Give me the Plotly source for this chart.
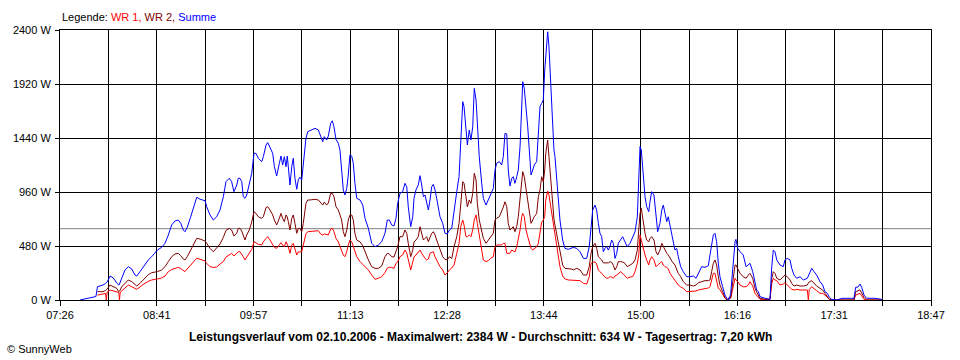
import plotly.graph_objects as go

# ---------------- data ----------------
# time of day in minutes after midnight
zeit_min = [
    461.6, 467.9, 474.1, 475.3, 479.6, 481.6, 482.2, 482.9, 485.1, 487.7,
    490.3, 492.0, 492.5, 493.1, 494.2, 496.8, 499.4, 502.1, 504.6, 506.0,
    508.5, 511.1, 515.0, 517.7, 522.1, 525.5, 528.1, 530.7, 533.3, 535.9,
    538.5, 540.4, 542.4, 543.7, 545.5, 548.2, 550.8, 552.9, 555.5, 559.4,
    560.7, 563.3, 565.9, 568.5, 571.1, 573.7, 575.8, 578.4, 580.2, 582.0,
    584.2, 585.4, 586.7, 588.1, 589.3, 590.6, 592.0, 594.0, 595.9, 597.7,
    599.2, 601.0, 603.7, 605.0, 607.1, 608.4, 610.2, 612.3, 613.6, 615.4,
    617.5, 618.8, 620.1, 621.4, 622.7, 623.7, 624.5, 625.8, 627.2, 628.4,
    629.7, 631.1, 632.3, 633.6, 635.0, 636.2, 638.3, 639.7, 641.5, 645.4,
    648.0, 649.8, 651.4, 652.6, 654.5, 655.8, 657.6, 658.9, 660.2, 661.8,
    663.6, 664.9, 666.2, 667.5, 668.8, 670.2, 671.4, 672.7, 674.1, 675.3,
    676.6, 678.0, 680.6, 682.7, 684.5, 687.1, 689.7, 692.3, 694.9, 697.5,
    700.1, 701.9, 703.5, 705.3, 707.1, 708.7, 710.0, 711.8, 713.9, 715.7,
    717.1, 718.3, 720.2, 721.8, 722.8, 724.3, 726.1, 727.5, 728.8, 730.1,
    731.4, 732.7, 734.0, 735.3, 736.6, 737.9, 739.2, 740.5, 741.8, 743.1,
    745.2, 747.0, 748.8, 750.4, 752.3, 754.1, 756.2, 758.0, 759.3, 760.9,
    761.9, 763.4, 764.5, 766.0, 767.3, 768.7, 769.9, 771.3, 772.3, 773.8,
    775.7, 777.0, 779.1, 780.9, 782.7, 784.8, 786.1, 787.4, 789.5, 791.3,
    792.6, 793.9, 795.3, 796.5, 797.8, 799.2, 800.4, 801.7, 803.1, 804.3,
    805.7, 807.0, 807.8, 809.0, 810.4, 811.7, 812.9, 814.3, 815.6, 816.8,
    818.7, 820.0, 821.3, 822.6, 823.9, 825.0, 825.8, 826.5, 827.3, 828.3,
    829.7, 830.9, 832.2, 833.0, 834.8, 836.9, 839.0, 840.8, 843.4, 846.1,
    847.3, 850.0, 852.6, 855.2, 857.8, 859.8, 861.2, 862.5, 864.3, 865.6,
    866.9, 868.2, 869.5, 870.8, 872.1, 873.4, 874.7, 876.0, 877.3, 878.6,
    879.9, 881.3, 882.5, 884.4, 885.9, 887.7, 889.5, 891.7, 893.8, 895.6,
    897.4, 898.5, 899.5, 900.5, 902.1, 903.4, 904.7, 906.3, 907.3, 908.6,
    910.4, 912.0, 913.3, 915.1, 916.5, 917.7, 919.0, 920.4, 921.6, 922.9,
    924.7, 926.8, 928.2, 929.4, 931.3, 933.3, 936.0, 938.6, 941.2, 943.3,
    945.1, 947.7, 950.3, 952.9, 954.2, 955.5, 956.8, 958.1, 959.4, 960.7,
    962.0, 964.1, 965.9, 967.7, 969.3, 970.4, 972.4, 973.8, 974.5, 975.9,
    977.7, 980.2, 982.4, 984.2, 985.5, 987.6, 989.4, 990.7, 992.0, 993.3,
    997.2, 1001.1, 1002.5, 1003.7, 1005.0, 1006.4, 1008.9, 1011.5, 1012.8, 1014.6,
    1016.8, 1018.1, 1019.9, 1022.0, 1024.6, 1027.2, 1030.3, 1031.1, 1031.8, 1033.7,
    1035.5, 1037.6, 1040.2, 1042.3, 1044.1, 1045.9, 1047.5, 1049.4, 1053.3, 1057.4,
    1066.8, 1068.1, 1069.9, 1071.5, 1072.8, 1074.6, 1076.7, 1083.2, 1088.5,
]

# Summe (W)
summe = [
    0, 13, 31, 118, 133, 147, 151, 160, 213, 196,
    151, 133, 142, 160, 193, 267, 296, 276, 222, 213,
    251, 296, 356, 385, 444, 468, 504, 578, 667, 702,
    711, 682, 622, 607, 646, 740, 829, 913, 895, 883,
    829, 756, 711, 740, 800, 918, 1052, 1082, 1052, 963,
    1022, 1082, 1082, 1052, 918, 904, 933, 1037, 1126, 1304,
    1304, 1260, 1230, 1274, 1378, 1399, 1349, 1304, 1185, 1102,
    1215, 1280, 1200, 1274, 1185, 1280, 1185, 1022, 1185, 1260,
    1082, 984, 1067, 1091, 1067, 1185, 1437, 1496, 1505, 1526,
    1511, 1452, 1407, 1452, 1422, 1458, 1570, 1593, 1540, 1428,
    1393, 1333, 1185, 978, 933, 993, 1111, 1289, 1280, 1215,
    1037, 904, 889, 844, 726, 637, 504, 474, 489, 518,
    593, 711, 711, 667, 658, 726, 859, 948, 963, 1037,
    1007, 829, 652, 740, 904, 978, 1022, 1105, 1022, 918,
    933, 859, 800, 889, 1007, 1028, 978, 904, 829, 740,
    682, 593, 587, 622, 637, 800, 963, 1096, 1363, 1763,
    1719, 1511, 1378, 1511, 1422, 1540, 1881, 1778, 1570, 1274,
    1037, 904, 844, 889, 948, 993, 1155, 1215, 1230, 1200,
    1274, 1481, 1476, 1155, 1013, 1082, 1096, 1037, 1096, 1155,
    1363, 1719, 1941, 1881, 1719, 1541, 1333, 1111, 1155, 1200,
    1230, 1452, 1719, 1748, 1778, 2044, 2178, 2252, 2384, 2252,
    1926, 1600, 1333, 1274, 978, 711, 533, 459, 450, 459,
    468, 459, 429, 370, 370, 474, 652, 800, 844, 800,
    682, 593, 563, 429, 459, 474, 444, 474, 533, 504,
    370, 415, 504, 533, 563, 518, 474, 504, 563, 607,
    740, 1156, 1363, 1333, 1067, 918, 829, 785, 874, 963,
    933, 770, 607, 682, 800, 844, 770, 696, 740, 652,
    563, 444, 459, 385, 296, 252, 207, 207, 213, 193,
    237, 296, 290, 305, 400, 504, 578, 593, 518, 326,
    207, 118, 44, 6, 6, 59, 385, 518, 539, 459,
    429, 400, 296, 311, 326, 252, 163, 89, 74, 30,
    15, 6, 296, 444, 429, 356, 311, 296, 356, 370,
    356, 281, 222, 193, 207, 178, 193, 218, 240, 281,
    252, 222, 163, 133, 74, 59, 24, 6, 0, 15,
    15, 113, 115, 142, 113, 44, 15, 15, 6,
]

# WR 2 (W)
wr2 = [
    None, None, None, 74, 74, 84, 89, 98, 133, 118,
    104, 74, 80, 89, 116, 148, 178, 163, 136, 124,
    148, 178, 225, 243, 252, 267, 296, 341, 385, 409,
    415, 394, 364, 356, 385, 444, 504, 548, 542, 524,
    504, 459, 429, 459, 498, 557, 619, 637, 622, 569,
    593, 637, 637, 613, 563, 533, 578, 622, 693, 785,
    770, 740, 726, 740, 823, 829, 800, 756, 711, 667,
    726, 770, 726, 696, 756, 738, 696, 622, 726, 756,
    681, 593, 637, 637, 607, 681, 859, 889, 889, 895,
    889, 859, 844, 871, 844, 862, 948, 948, 918, 829,
    800, 756, 711, 608, 563, 622, 711, 756, 756, 711,
    593, 533, 516, 483, 429, 356, 296, 281, 281, 302,
    385, 415, 409, 385, 382, 429, 474, 563, 563, 622,
    593, 504, 385, 444, 516, 533, 563, 652, 593, 533,
    548, 563, 518, 563, 593, 607, 578, 533, 489, 444,
    385, 361, 356, 385, 370, 474, 563, 681, 859, 1052,
    1037, 918, 829, 889, 859, 948, 1126, 1067, 859, 711,
    593, 548, 504, 533, 563, 593, 711, 726, 740, 785,
    826, 873, 829, 681, 622, 637, 652, 607, 652, 740,
    889, 1067, 1141, 1096, 978, 889, 800, 681, 711, 740,
    770, 918, 978, 1096, 1049, 1156, 1304, 1378, 1422, 1274,
    1067, 889, 720, 667, 563, 415, 311, 281, 281, 275,
    267, 281, 267, 222, 222, 296, 415, 474, 504, 459,
    385, 370, 356, 330, 330, 325, 330, 340, 335, 310,
    267, 296, 341, 341, 338, 326, 296, 311, 326, 356,
    444, 622, 770, 815, 681, 593, 533, 518, 548, 563,
    533, 429, 400, 444, 504, 474, 444, 415, 400, 370,
    341, 311, 267, 237, 207, 163, 133, 133, 124, 133,
    154, 163, 172, 172, 178, 252, 326, 356, 311, 207,
    133, 74, 24, 0, 24, 24, 178, 311, 311, 284,
    237, 207, 193, 222, 237, 193, 104, 71, 44, 15,
    6, 6, 193, 252, 237, 193, 178, 207, 222, 207,
    178, 148, 124, 133, 124, 124, 133, 151, 160, 172,
    148, 124, 104, 89, 59, 24, 6, 0, 0, 0,
    0, 74, 80, 89, 62, 24, 0, 0, 0,
]

# WR 1 (W)
wr1 = [
    None, None, None, 44, 53, 58, 0, 71, 89, 83,
    74, 67, 0, 71, 80, 104, 133, 118, 100, 95,
    115, 139, 166, 178, 187, 196, 213, 252, 271, 284,
    290, 280, 258, 252, 276, 311, 350, 371, 362, 347,
    326, 296, 290, 293, 320, 342, 381, 400, 415, 391,
    415, 429, 429, 409, 385, 356, 379, 418, 450, 518,
    504, 495, 489, 518, 548, 563, 533, 489, 468, 459,
    489, 510, 489, 474, 518, 498, 474, 415, 489, 504,
    459, 400, 427, 429, 429, 489, 587, 607, 610, 616,
    616, 587, 578, 587, 578, 578, 631, 637, 607, 548,
    516, 474, 444, 400, 385, 429, 489, 533, 518, 474,
    429, 385, 341, 317, 296, 267, 222, 184, 193, 207,
    244, 284, 290, 290, 281, 326, 338, 385, 400, 444,
    418, 356, 267, 338, 382, 400, 422, 444, 415, 391,
    370, 356, 364, 415, 422, 429, 385, 356, 326, 296,
    267, 222, 242, 267, 284, 311, 415, 504, 652, 711,
    667, 563, 563, 578, 563, 622, 711, 756, 682, 563,
    415, 356, 341, 350, 370, 385, 474, 489, 489, 489,
    504, 504, 415, 415, 415, 444, 435, 427, 474, 533,
    622, 741, 770, 741, 622, 563, 504, 459, 444, 459,
    474, 504, 622, 693, 711, 741, 889, 948, 969, 933,
    829, 711, 622, 569, 444, 296, 213, 187, 178, 178,
    178, 178, 172, 148, 142, 207, 326, 338, 338, 320,
    267, 252, 237, 213, 204, 193, 195, 207, 204, 193,
    213, 222, 237, 252, 237, 213, 193, 204, 207, 252,
    326, 400, 578, 533, 444, 400, 356, 311, 356, 385,
    356, 296, 311, 326, 341, 311, 296, 291, 275, 237,
    207, 178, 160, 133, 116, 104, 74, 74, 74, 80,
    89, 95, 98, 107, 118, 178, 237, 237, 178, 104,
    93, 44, 15, 0, 15, 15, 133, 193, 178, 163,
    133, 118, 118, 133, 163, 124, 59, 44, 24, 6,
    6, 6, 148, 193, 178, 172, 133, 142, 154, 133,
    116, 95, 89, 95, 89, 89, 89, 0, 92, 118,
    104, 83, 59, 59, 44, 24, 6, 0, 0, 0,
    0, 44, 50, 59, 36, 6, 0, 0, 0,
]

y_tick_values = [0, 480, 960, 1440, 1920, 2400]
y_tick_labels = ["0 W", "480 W", "960 W", "1440 W", "1920 W", "2400 W"]
x_tick_labels = ["07:26", "08:41", "09:57", "11:13", "12:28",
                 "13:44", "15:00", "16:16", "17:31", "18:47"]
x_start_min = 446      # 07:26
x_end_min = 1127       # 18:47
durchschnitt = 634
maximalwert = 2384
tagesertrag = "7,20"
datum = "02.10.2006"

# ---------------- figure ----------------
FONT = "Liberation Sans, Arial, sans-serif"
n_div = 2 * (len(x_tick_labels) - 1)
step = (x_end_min - x_start_min) / n_div
x_tick_values = [x_start_min + i * step for i in range(n_div + 1)]
x_tick_text = [x_tick_labels[i // 2] if i % 2 == 0 else "" for i in range(n_div + 1)]

fig = go.Figure()
fig.add_trace(go.Scatter(x=zeit_min, y=wr1, mode="lines", name="WR 1",
                         line=dict(color="#FF0000", width=1), connectgaps=False))
fig.add_trace(go.Scatter(x=zeit_min, y=wr2, mode="lines", name="WR 2",
                         line=dict(color="#800000", width=1), connectgaps=False))
fig.add_trace(go.Scatter(x=zeit_min, y=summe, mode="lines", name="Summe",
                         line=dict(color="#0000FF", width=1)))

fig.add_shape(type="line", xref="paper", x0=0, x1=1, yref="y",
              y0=durchschnitt, y1=durchschnitt,
              line=dict(color="#808080", width=1), layer="below")

fig.update_layout(
    width=960, height=360,
    margin=dict(l=60, r=29, t=30, b=60),
    paper_bgcolor="white", plot_bgcolor="white",
    showlegend=False, hovermode=False,
    font=dict(family=FONT, size=11, color="black"),
)
fig.update_xaxes(
    range=[x_start_min, x_end_min], tickmode="array",
    tickvals=x_tick_values, ticktext=x_tick_text,
    showgrid=True, gridcolor="black", gridwidth=1,
    ticks="outside", ticklen=5, tickcolor="black", tickwidth=1,
    showline=True, linecolor="black", linewidth=1, mirror=True,
    zeroline=False, tickfont=dict(family=FONT, size=11, color="black"),
)
fig.update_yaxes(
    range=[0, 2400], tickmode="array",
    tickvals=y_tick_values, ticktext=y_tick_labels,
    showgrid=True, gridcolor="black", gridwidth=1,
    ticks="outside", ticklen=4, tickcolor="black", tickwidth=1,
    showline=True, linecolor="black", linewidth=1, mirror=True,
    zeroline=False, ticklabelstandoff=2,
    tickfont=dict(family=FONT, size=11, color="black"),
)

fig.add_annotation(
    xref="paper", yref="paper", x=0, y=1 + 13 / 270,
    xanchor="left", yanchor="middle", showarrow=False,
    text=("Legende: <span style='color:#FF0000'>WR 1,</span> "
          "<span style='color:#800000'>WR 2,</span> "
          "<span style='color:#0000FF'>Summe</span>"),
    font=dict(family=FONT, size=11, color="black"),
)
fig.add_annotation(
    xref="paper", yref="paper", x=(480 - 60) / 871, y=-37 / 270,
    xanchor="center", yanchor="middle", showarrow=False,
    text=(f"<b>Leistungsverlauf vom {datum} - Maximalwert: {maximalwert} W - "
          f"Durchschnitt: {durchschnitt} W - Tagesertrag: {tagesertrag} kWh</b>"),
    font=dict(family=FONT, size=12, color="black"),
)
fig.add_annotation(
    xref="paper", yref="paper", x=(5 - 60) / 871, y=-49 / 270,
    xanchor="left", yanchor="middle", showarrow=False,
    text="© SunnyWeb",
    font=dict(family=FONT, size=11, color="black"),
)

fig.write_html("out.html", config={"displayModeBar": False},
               post_script="document.body.style.margin='0px';")
